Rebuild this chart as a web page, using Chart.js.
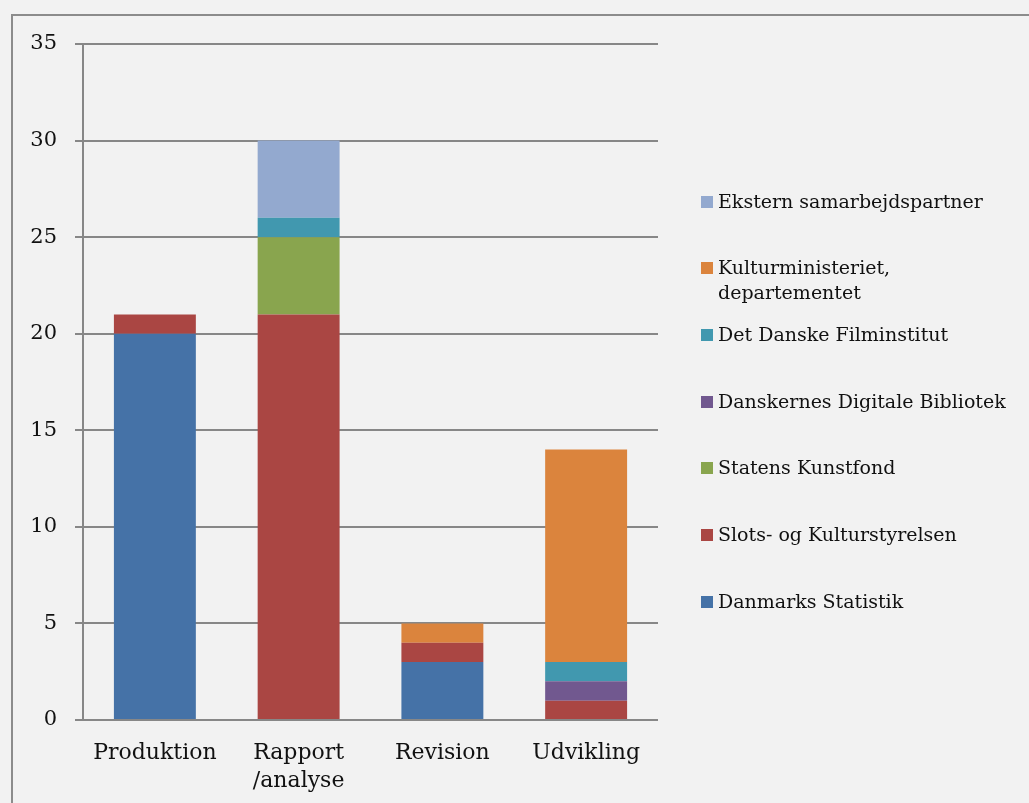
<!DOCTYPE html>
<html>
<head>
<meta charset="utf-8">
<script src="https://cdn.jsdelivr.net/npm/chart.js@4.4.1/dist/chart.umd.min.js"></script>
<style>
  html, body { margin: 0; padding: 0; background: #f2f2f2; }
  #wrap { position: relative; width: 1029px; height: 803px; overflow: hidden; }
  #ramme { position: absolute; left: 11px; top: 14px; width: 1100px; height: 900px;
           border-left: 2px solid #8c8c8c; border-top: 2px solid #8c8c8c; pointer-events: none; }
  #forklaring { position: absolute; left: 701px; top: 0; font-family: "DejaVu Serif", serif;
                font-size: 19px; color: #111; }
  .punkt { position: absolute; left: 0; white-space: nowrap; line-height: 25px; }
  .punkt i { position: absolute; left: 0; top: 7px; width: 12px; height: 12px; }
  .punkt span { position: absolute; left: 17px; top: 0; }
</style>
</head>
<body>
<div id="wrap">
  <canvas id="graf" width="1029" height="803"></canvas>
  <div id="ramme"></div>
  <div id="forklaring"></div>
</div>
<script>
const kategorier = ['Produktion', ['Rapport', '/analyse'], 'Revision', 'Udvikling'];

const danmarks_statistik = [20, 0, 3, 0];
const slots_kultur = [1, 21, 1, 1];
const statens_kunstfond = [0, 4, 0, 0];
const digitale_bibliotek = [0, 0, 0, 1];
const filminstitut = [0, 1, 0, 1];
const kulturministeriet = [0, 0, 1, 11];
const ekstern = [0, 4, 0, 0];

const y_ticks = [0, 5, 10, 15, 20, 25, 30, 35];

const serier = [
    { label: 'Danmarks Statistik', data: danmarks_statistik, backgroundColor: '#4572A7' },
    { label: 'Slots- og Kulturstyrelsen', data: slots_kultur, backgroundColor: '#AA4643' },
    { label: 'Statens Kunstfond', data: statens_kunstfond, backgroundColor: '#89A54E' },
    { label: 'Danskernes Digitale Bibliotek', data: digitale_bibliotek, backgroundColor: '#71588F' },
    { label: 'Det Danske Filminstitut', data: filminstitut, backgroundColor: '#4198AF' },
    { label: ['Kulturministeriet,', 'departementet'], data: kulturministeriet, backgroundColor: '#DB843D' },
    { label: 'Ekstern samarbejdspartner', data: ekstern, backgroundColor: '#93A9CF' }
];

const graf = new Chart(document.getElementById('graf'), {
    type: 'bar',
    data: {
        labels: kategorier,
        datasets: serier.map(s => ({
            label: Array.isArray(s.label) ? s.label.join(' ') : s.label,
            data: s.data,
            backgroundColor: s.backgroundColor,
            borderWidth: 0,
            barPercentage: 0.57,
            categoryPercentage: 1
        }))
    },
    options: {
        responsive: false,
        animation: false,
        layout: { padding: { top: 44, right: 371, bottom: 0, left: 0 } },
        plugins: { legend: { display: false }, tooltip: { enabled: false } },
        scales: {
            x: {
                stacked: true,
                grid: { display: false },
                border: { display: false },
                ticks: {
                    color: '#111',
                    font: { family: '"DejaVu Serif", serif', size: 22, lineHeight: 1.27 },
                    padding: 11,
                    maxRotation: 0
                },
                afterFit: (scale) => { scale.height = 83; }
            },
            y: {
                stacked: true,
                min: 0,
                max: 35,
                afterBuildTicks: (scale) => { scale.ticks = y_ticks.map(v => ({ value: v })); },
                grid: { color: '#878787', lineWidth: 2, tickLength: 8 },
                border: { color: '#878787', width: 2 },
                ticks: { color: '#111', font: { family: '"DejaVu Serif", serif', size: 21 }, padding: 18 },
                afterFit: (scale) => { scale.width = 83; }
            }
        }
    }
});

// forklaring i omvendt rækkefølge, som i Excel
const forklaring = document.getElementById('forklaring');
serier.slice().reverse().forEach((s, i) => {
    const el = document.createElement('div');
    el.className = 'punkt';
    el.style.top = (201 - 12.5 + i * 66.7) + 'px';
    const linjer = Array.isArray(s.label) ? s.label : [s.label];
    el.innerHTML = '<i style="background:' + s.backgroundColor + '"></i><span>' + linjer.join('<br>') + '</span>';
    forklaring.appendChild(el);
});
</script>
</body>
</html>
